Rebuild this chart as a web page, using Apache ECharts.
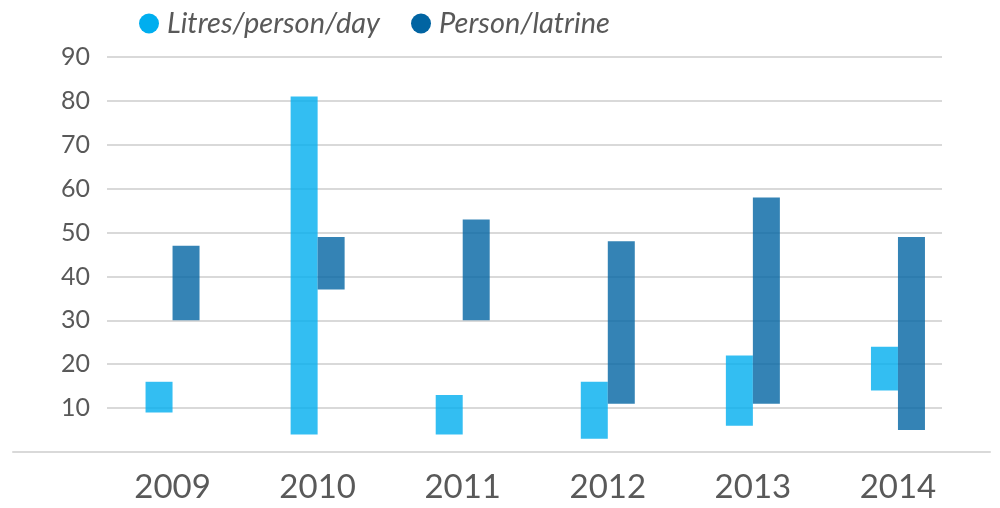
<!DOCTYPE html>
<html>
<head>
<meta charset="utf-8">
<script src="https://cdn.jsdelivr.net/npm/echarts@6/dist/echarts.min.js"></script>
<style>html,body{margin:0;padding:0;background:#fff}#c{width:1000px;height:508px}</style>
</head>
<body>
<div id="c"></div>
<script>
var categories = ['2009', '2010', '2011', '2012', '2013', '2014'];
var litresLow  = [9, 4, 4, 3, 6, 14];
var litresHigh = [16, 81, 13, 16, 22, 24];
var latrineLow  = [30, 37, 30, 11, 11, 5];
var latrineHigh = [47, 49, 53, 48, 58, 49];
var yTicks = [0, 10, 20, 30, 40, 50, 60, 70, 80, 90];

var litresRange = litresHigh.map(function (v, i) { return v - litresLow[i]; });
var latrineRange = latrineHigh.map(function (v, i) { return v - latrineLow[i]; });

var chart = echarts.init(document.getElementById('c'), null, { renderer: 'canvas' });
var gridTop = 57, gridBottom = 56;
var labelColor = '#595959';
chart.setOption({
  animation: false,
  legend: {
    left: 134, top: 4,
    icon: 'circle', itemWidth: 20, itemHeight: 20, itemGap: 31,
    textStyle: { fontFamily: 'Lato', fontStyle: 'italic', fontSize: 29, color: labelColor, padding: [0, 0, 0, 3] },
    data: [
      { name: 'Litres/person/day', itemStyle: { color: '#00aeef', opacity: 1 } },
      { name: 'Person/latrine', itemStyle: { color: '#0164a2', opacity: 1 } }
    ]
  },
  grid: [
    { left: 107, right: 58, top: gridTop, bottom: gridBottom },
    { left: 100, right: 29.5, top: gridTop, bottom: gridBottom },
    { left: 13, right: 10, top: gridTop, bottom: gridBottom }
  ],
  xAxis: [
    { gridIndex: 0, type: 'value', show: false, min: 0, max: 1 },
    { gridIndex: 1, type: 'category', data: categories,
      axisLine: { show: false }, axisTick: { show: false },
      axisLabel: { fontFamily: 'Lato', fontSize: 33, color: labelColor, margin: 19 } },
    { gridIndex: 2, type: 'value', min: 0, max: 1,
      axisLine: { show: true, lineStyle: { color: '#d9d9d9', width: 2 } },
      axisTick: { show: false }, axisLabel: { show: false }, splitLine: { show: false } }
  ],
  yAxis: [
    { gridIndex: 0, type: 'value', min: yTicks[0], max: yTicks[yTicks.length - 1], interval: 10,
      axisLine: { show: false }, axisTick: { show: false },
      axisLabel: { fontFamily: 'Lato', fontSize: 25, color: labelColor, margin: 17,
        formatter: function (v) { return v === 0 ? '' : String(v); } },
      splitLine: { lineStyle: { color: '#d9d9d9', width: 2 } } },
    { gridIndex: 1, type: 'value', min: yTicks[0], max: yTicks[yTicks.length - 1], interval: 10, show: false },
    { gridIndex: 2, type: 'value', min: 0, max: 1, show: false }
  ],
  series: [
    { name: 'litresBase', type: 'bar', xAxisIndex: 1, yAxisIndex: 1, stack: 'L', data: litresLow,
      barWidth: 27, barGap: '0%', itemStyle: { color: 'transparent' }, silent: true },
    { name: 'Litres/person/day', type: 'bar', xAxisIndex: 1, yAxisIndex: 1, stack: 'L', data: litresRange,
      barWidth: 27, barGap: '0%', itemStyle: { color: 'rgba(0,174,239,0.8)' } },
    { name: 'latrineBase', type: 'bar', xAxisIndex: 1, yAxisIndex: 1, stack: 'P', data: latrineLow,
      barWidth: 27, barGap: '0%', itemStyle: { color: 'transparent' }, silent: true },
    { name: 'Person/latrine', type: 'bar', xAxisIndex: 1, yAxisIndex: 1, stack: 'P', data: latrineRange,
      barWidth: 27, barGap: '0%', itemStyle: { color: 'rgba(1,100,162,0.8)' } }
  ]
});
</script>
</body>
</html>
